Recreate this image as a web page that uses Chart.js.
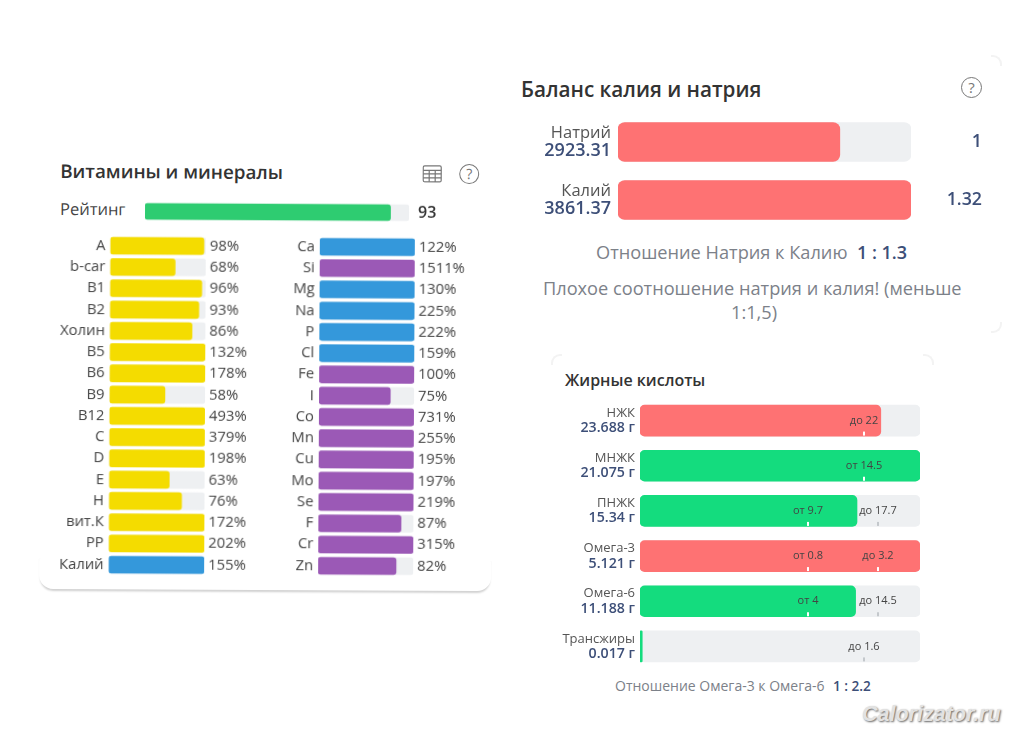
<!DOCTYPE html>
<html>
<head>
<meta charset="utf-8">
<script src="https://cdn.jsdelivr.net/npm/chart.js@4"></script>
<style>
html,body{margin:0;padding:0;background:#fff;width:1024px;height:736px;overflow:hidden}
body{position:relative;font-family:"Open Sans",sans-serif;color:#333}
canvas{position:absolute;display:block}
.t{position:absolute;white-space:nowrap;line-height:24px;height:24px}
.navy{color:#3d4f78;font-weight:600}
.grey{color:#7c8189}
#left{position:absolute;left:0;top:0;width:1024px;height:736px;transform:rotate(.3deg);transform-origin:265px 405px}
#card{position:absolute;left:40px;top:120px;width:452px;height:470px;border-radius:0 0 14px 14px;box-shadow:0 3px 2px -1px rgba(0,0,0,.18);background:#fff;clip-path:inset(440px -6px -6px -6px)}
.q{position:absolute;box-sizing:border-box;border:1.5px solid #777;border-radius:50%;color:#777;text-align:center}
.c{position:absolute;width:9px;height:9px;border:0 solid #f3f3f3}
</style>
</head>
<body>
<div id="left">
  <div id="card"></div>
  <div class="t" style="left:59px;top:160px;font-size:18.8px;font-weight:600;color:#333">Витамины и минералы</div>
  <svg style="position:absolute;left:421px;top:164px" width="20" height="18" fill="none" stroke="#777" stroke-width="1.2">
    <rect x="1" y="1" width="18" height="16" rx="1.5"/><path d="M1 5.5H19M1 9H19M1 13H19M7 5.5V17M13 5.5V17"/>
  </svg>
  <div class="q" style="left:458px;top:163px;width:20px;height:20px;font-size:14px;line-height:17px">?</div>
  <div class="t" style="left:59px;top:198px;font-size:16.5px;font-weight:500;color:#444">Рейтинг</div>
  <canvas id="ratingChart" width="320" height="30" style="left:128px;top:197px"></canvas>
  <!-- taller than the rows: the y axis keeps about 13px above and below for its tick labels -->
  <canvas id="vitChart" width="240" height="368" style="left:39.5px;top:222px"></canvas>
  <canvas id="minChart" width="200" height="368" style="left:279px;top:222px"></canvas>
</div>

<div class="c" style="left:991px;top:55px;border-top-width:2px;border-right-width:2px;border-top-right-radius:9px"></div>
<div class="c" style="left:991px;top:322px;border-bottom-width:2px;border-right-width:2px;border-bottom-right-radius:9px"></div>
<div class="c" style="left:551px;top:354px;border-top-width:2px;border-left-width:2px;border-top-left-radius:9px"></div>
<div class="c" style="left:923px;top:354px;border-top-width:2px;border-right-width:2px;border-top-right-radius:9px"></div>

<div class="t" style="left:521px;top:77px;font-size:20.7px;font-weight:600;color:#333">Баланс калия и натрия</div>
<div class="q" style="left:961px;top:77px;width:21px;height:21px;font-size:15px;line-height:18px">?</div>
<canvas id="balanceChart" width="480" height="116" style="left:520px;top:113px"></canvas>
<div class="t grey" style="left:596px;top:240px;font-size:18.2px">Отношение Натрия к Калию</div>
<div class="t navy" style="left:857px;top:240px;font-size:18px">1 : 1.3</div>
<div class="t grey" style="left:543px;top:276px;font-size:18.2px">Плохое соотношение натрия и калия! (меньше</div>
<div class="t grey" style="left:731px;top:300px;font-size:18.2px">1:1,5)</div>

<div class="t" style="left:565px;top:368px;font-size:16px;font-weight:600;color:#333">Жирные кислоты</div>
<canvas id="fatChart" width="400" height="271" style="left:555px;top:398px"></canvas>
<div class="t grey" style="left:615px;top:674px;font-size:14px">Отношение Омега-3 к Омега-6</div>
<div class="t navy" style="left:833px;top:674px;font-size:13.6px">1 : 2.2</div>

<div class="t" style="left:862px;top:702px;font:italic bold 21.5px 'Liberation Sans',sans-serif;line-height:24px;color:#e2e2e2;text-shadow:1px 1px 2px #666">Calorizator.ru</div>

<script>
// data
var ratingValue = 93;

var vitLabels = ['A','b-car','B1','B2','Холин','B5','B6','B9','B12','C','D','E','H','вит.К','PP','Калий'];
var vitValues = [98,68,96,93,86,132,178,58,493,379,198,63,76,172,202,155];
var vitGroups = ['v','v','v','v','v','v','v','v','v','v','v','v','v','v','v','macro'];

var minLabels = ['Ca','Si','Mg','Na','P','Cl','Fe','I','Co','Mn','Cu','Mo','Se','F','Cr','Zn'];
var minValues = [122,1511,130,225,222,159,100,75,731,255,195,197,219,87,315,82];
var minGroups = ['macro','micro','macro','macro','macro','macro','micro','micro','micro','micro','micro','micro','micro','micro','micro','micro'];

var balanceLabels = ['Натрий','Калий'];
var balanceValues = [2923.31,3861.37];
var balanceShare = ['1','1.32'];

var fatLabels = ['НЖК','МНЖК','ПНЖК','Омега-3','Омега-6','Трансжиры'];
var fatAmounts = ['23.688 г','21.075 г','15.34 г','5.121 г','11.188 г','0.017 г'];
var fatFill = [86,100,77.5,100,77,0.8];     // bar length, % of the track
var fatGood = [false,true,true,false,true,true];
var fatFromText = [null,'от 14.5','от 9.7','от 0.8','от 4',null];
var fatFromPos  = [null,80,60,60,60,null];
var fatToText = ['до 22',null,'до 17.7','до 3.2','до 14.5','до 1.6'];
var fatToPos  = [80,null,85,85,85,80];

var palette = {v:'#f4dc00',macro:'#3498db',micro:'#9b59b6'};
var trackColor = '#eef0f2';
var redColor = '#fe7273';
var greenColor = '#14dc7e';
var navyColor = '#3d4f78';
var FONT = '"Open Sans", sans-serif';

Chart.defaults.font.family = FONT;
Chart.defaults.animation = false;

// text to the right of each bar
var sideText = {
  id:'sideText',
  afterDraw:function(chart,args,o){
    var ctx = chart.ctx, y = chart.scales.y;
    ctx.save();
    ctx.font = o.font;
    ctx.fillStyle = o.color;
    ctx.textAlign = o.align;
    ctx.textBaseline = 'middle';
    o.texts.forEach(function(t,i){
      ctx.fillText(t, chart.scales.x.right + o.gap, y.getPixelForValue(i));
    });
    ctx.restore();
  }
};

// two line label on the left: name + amount
var twoLine = {
  id:'twoLine',
  afterDraw:function(chart,args,o){
    var ctx = chart.ctx, y = chart.scales.y, x = chart.scales.x.left - o.gap;
    ctx.save();
    ctx.textAlign = 'right';
    ctx.textBaseline = 'middle';
    o.names.forEach(function(n,i){
      var c = y.getPixelForValue(i);
      ctx.font = o.nameFont; ctx.fillStyle = '#555';
      ctx.fillText(n, x, c - o.shift);
      ctx.font = o.valueFont; ctx.fillStyle = navyColor;
      ctx.fillText(o.values[i], x, c + o.shift);
    });
    ctx.restore();
  }
};

// от / до marks inside the fat bars
var limits = {
  id:'limits',
  afterDraw:function(chart){
    var ctx = chart.ctx, sx = chart.scales.x, sy = chart.scales.y;
    function mark(text,pos,i){
      if(pos===null) return;
      var x = sx.getPixelForValue(pos), c = sy.getPixelForValue(i);
      ctx.fillStyle = '#444';
      ctx.fillText(text, x, c);
      ctx.fillStyle = pos < fatFill[i] ? '#ffffff' : '#c4c8cc';
      ctx.fillRect(x-1, c+11, 2, 4);
    }
    ctx.save();
    ctx.font = '11px '+FONT;
    ctx.textAlign = 'center';
    ctx.textBaseline = 'middle';
    fatLabels.forEach(function(n,i){
      mark(fatFromText[i],fatFromPos[i],i);
      mark(fatToText[i],fatToPos[i],i);
    });
    ctx.restore();
  }
};

function barChart(id,labels,values,colors,maxX,thick,radius,leftW,rightPad,tickSize,plugins,pluginOpts){
  return new Chart(document.getElementById(id),{
    type:'bar',
    data:{
      labels:labels,
      datasets:[
        {data:values,backgroundColor:colors,barThickness:thick,borderRadius:radius,borderSkipped:false,order:1,grouped:false},
        {data:labels.map(function(){return maxX;}),backgroundColor:trackColor,barThickness:thick,borderRadius:radius,borderSkipped:false,order:2,grouped:false}
      ]
    },
    options:{
      indexAxis:'y',
      responsive:false,
      devicePixelRatio:1,
      layout:{autoPadding:false,padding:{left:0,right:rightPad,top:0,bottom:0}},
      plugins:Object.assign({legend:{display:false},tooltip:{enabled:false}},pluginOpts),
      scales:{
        x:{display:false,min:0,max:maxX},
        y:{
          afterFit:function(a){a.width=leftW;},
          grid:{display:false,drawTicks:false,tickLength:0},
          border:{display:false},
          ticks:{display:tickSize>0,autoSkip:false,color:'#444',padding:5,font:{size:tickSize||12}}
        }
      }
    },
    plugins:plugins
  });
}

function cap(list){ return list.map(function(v){return Math.min(v,100);}); }
function pct(list){ return list.map(function(v){return v+'%';}); }
function groupColors(list){ return list.map(function(g){return palette[g];}); }

barChart('ratingChart',[''],[ratingValue],['#2ecc71'],100,16,3,16,40,0,[sideText],
  {sideText:{texts:[String(ratingValue)],font:'600 16px '+FONT,color:'#333',align:'left',gap:9}});

barChart('vitChart',vitLabels,cap(vitValues),groupColors(vitGroups),100,17,3,69.5,75,14.8,[sideText],
  {sideText:{texts:pct(vitValues),font:'14.8px '+FONT,color:'#444',align:'left',gap:4}});

barChart('minChart',minLabels,cap(minValues),groupColors(minGroups),100,17,3,40,65,14.8,[sideText],
  {sideText:{texts:pct(minValues),font:'14.8px '+FONT,color:'#444',align:'left',gap:4}});

barChart('balanceChart',balanceLabels,balanceValues,[redColor,redColor],balanceValues[1],39,7,98,89,0,[sideText,twoLine],
  {sideText:{texts:balanceShare,font:'600 17.8px '+FONT,color:navyColor,align:'right',gap:71},
   twoLine:{names:balanceLabels,values:balanceValues.map(String),nameFont:'16.5px '+FONT,valueFont:'600 18px '+FONT,shift:9,gap:7}});

barChart('fatChart',fatLabels,fatFill,fatGood.map(function(g){return g?greenColor:redColor;}),100,31,5,85,35,0,[twoLine,limits],
  {twoLine:{names:fatLabels,values:fatAmounts,nameFont:'13px '+FONT,valueFont:'600 14.2px '+FONT,shift:7.5,gap:5}});
</script>
</body>
</html>
